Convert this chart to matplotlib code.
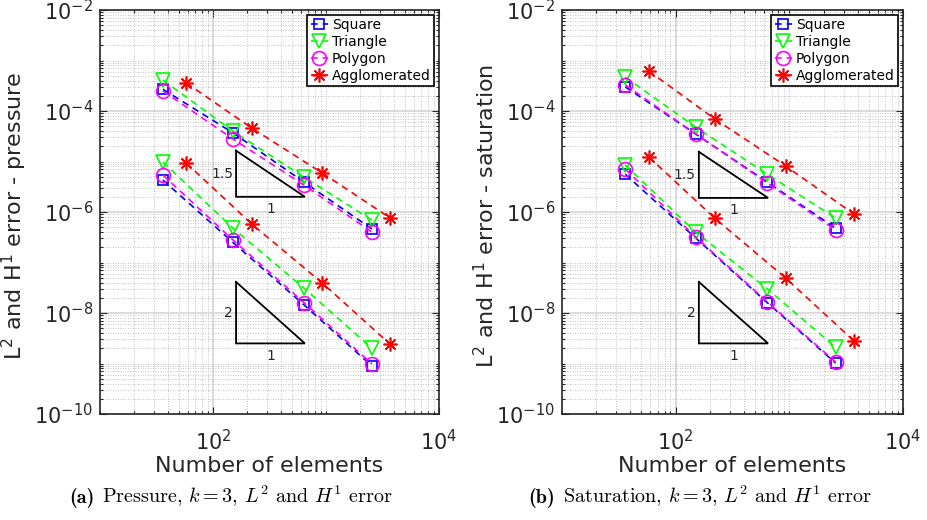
import matplotlib
matplotlib.use("Agg")
import matplotlib.pyplot as plt
import numpy as np
from matplotlib.ticker import LogLocator, FuncFormatter, NullFormatter

# number of elements for the structured meshes and for the agglomerated ones
n_elems = [36, 150, 640, 2550]
n_elems_agglo = [58, 220, 930, 3700]

# pressure, H1 error (upper group)
p_h1_square = [2.7e-4, 3.7e-5, 3.9e-6, 4.6e-7]
p_h1_triangle = [4.1e-4, 4.0e-5, 4.9e-6, 6.9e-7]
p_h1_polygon = [2.5e-4, 2.8e-5, 3.4e-6, 4.0e-7]
p_h1_agglo = [3.6e-4, 4.6e-5, 5.9e-6, 7.6e-7]

# pressure, L2 error (lower group)
p_l2_square = [4.3e-6, 2.5e-7, 1.44e-8, 8.9e-10]
p_l2_triangle = [9.8e-6, 4.8e-7, 3.1e-8, 2.0e-9]
p_l2_polygon = [5.4e-6, 2.8e-7, 1.6e-8, 9.8e-10]
p_l2_agglo = [9.3e-6, 5.8e-7, 3.9e-8, 2.4e-9]

# saturation, H1 error
s_h1_square = [3.0e-4, 3.5e-5, 3.9e-6, 4.8e-7]
s_h1_triangle = [4.7e-4, 4.8e-5, 5.6e-6, 7.6e-7]
s_h1_polygon = [3.3e-4, 3.5e-5, 3.75e-6, 4.4e-7]
s_h1_agglo = [6.2e-4, 7.0e-5, 8.1e-6, 9.1e-7]

# saturation, L2 error
s_l2_square = [5.6e-6, 3.05e-7, 1.6e-8, 1.02e-9]
s_l2_triangle = [8.5e-6, 4.0e-7, 3.0e-8, 2.1e-9]
s_l2_polygon = [7.1e-6, 3.2e-7, 1.66e-8, 1.07e-9]
s_l2_agglo = [1.23e-5, 7.6e-7, 4.9e-8, 2.8e-9]

mesh_names = ["Square", "Triangle", "Polygon", "Agglomerated"]

TXT = "#262626"
BLUE, GREEN, MAGENTA, RED = "#0000ff", "#00ff00", "#ff00ff", "#ff0000"

styles = [
    dict(color=BLUE, marker="s", ms=7.5),
    dict(color=GREEN, marker="v", ms=10),
    dict(color=MAGENTA, marker="o", ms=10),
    dict(color=RED, marker=(8, 2, 0), ms=10),
]


def draw_series(ax, h1, l2, with_label):
    xs = [n_elems, n_elems, n_elems, n_elems_agglo]
    for i, (st, x) in enumerate(zip(styles, xs)):
        for k, ys in enumerate((h1[i], l2[i])):
            ax.plot(x, ys, linestyle=(0, (4, 3)), linewidth=1.2,
                    color=st["color"], marker=st["marker"], markersize=st["ms"],
                    markerfacecolor="none", markeredgecolor=st["color"],
                    markeredgewidth=1.2,
                    label=mesh_names[i] if (k == 0 and with_label) else None)


def slope_triangle(ax, x0, x1, y_base, order, label):
    y_top = y_base * (x1 / x0) ** order
    ax.plot([x0, x0, x1, x0], [y_top, y_base, y_base, y_top],
            color="black", linewidth=1.3, solid_joinstyle="miter")
    ax.text(x0 * 0.94, np.sqrt(y_top * y_base), label, ha="right",
            va="center", fontsize=10, color=TXT)
    ax.text(np.sqrt(x0 * x1), y_base * 0.78, "1", ha="center",
            va="top", fontsize=10, color=TXT)


def style_axes(ax):
    ax.set_xscale("log")
    ax.set_yscale("log")
    ax.set_xlim(10, 1e4)
    ax.set_ylim(1e-10, 1e-2)
    ax.xaxis.set_major_locator(LogLocator(base=100, numticks=20))
    ax.yaxis.set_major_locator(LogLocator(base=100, numticks=20))
    ax.xaxis.set_minor_locator(LogLocator(base=10, subs=np.arange(1, 10), numticks=100))
    ax.yaxis.set_minor_locator(LogLocator(base=10, subs=np.arange(1, 10), numticks=100))
    fmt = FuncFormatter(lambda v, p: r"10$^{%d}$" % int(round(np.log10(v))))
    ax.xaxis.set_major_formatter(fmt)
    ax.yaxis.set_major_formatter(fmt)
    ax.xaxis.set_minor_formatter(NullFormatter())
    ax.yaxis.set_minor_formatter(NullFormatter())
    ax.tick_params(which="both", direction="in", top=True, right=True,
                   colors=TXT, labelsize=15, width=0.8)
    ax.tick_params(which="major", length=5)
    ax.tick_params(axis="y", which="major", pad=5)
    ax.tick_params(axis="x", which="major", pad=11)
    ax.tick_params(which="minor", length=2.5)
    ax.grid(True, which="major", color="#d6d6d6", linewidth=1.2, linestyle="-")
    ax.grid(True, which="minor", color="#b0b0b0", linewidth=0.6, linestyle=(0, (1, 2)))
    ax.set_axisbelow(True)
    for sp in ax.spines.values():
        sp.set_color(TXT)
        sp.set_linewidth(1.2)
    ax.set_xlabel("Number of elements", fontsize=16, color=TXT)
    ax.xaxis.set_label_coords(0.5, -0.105)


fig = plt.figure(figsize=(9.27, 5.2), dpi=100)
ax_p = fig.add_axes([100 / 927, 1 - 414 / 520, 339 / 927, 404 / 520])
ax_s = fig.add_axes([562 / 927, 1 - 414 / 520, 341 / 927, 404 / 520])

panels = [
    (ax_p, [p_h1_square, p_h1_triangle, p_h1_polygon, p_h1_agglo],
     [p_l2_square, p_l2_triangle, p_l2_polygon, p_l2_agglo],
     "pressure", -0.209, 2.0e-6, 2.5e-9),
    (ax_s, [s_h1_square, s_h1_triangle, s_h1_polygon, s_h1_agglo],
     [s_l2_square, s_l2_triangle, s_l2_polygon, s_l2_agglo],
     "saturation", -0.187, 1.9e-6, 2.5e-9),
]

for ax, h1, l2, name, ylab_x, base_h1, base_l2 in panels:
    style_axes(ax)
    draw_series(ax, h1, l2, True)
    slope_triangle(ax, 160, 650, base_h1, 1.5, "1.5")
    slope_triangle(ax, 160, 650, base_l2, 2, "2")
    ax.set_ylabel("L$^2$ and H$^1$ error - " + name, fontsize=16, color=TXT)
    ax.yaxis.set_label_coords(ylab_x, 0.49)
    leg = ax.legend(loc="upper right", fontsize=10, handlelength=1.2,
                    handletextpad=0.3, borderpad=0.25, labelspacing=0.2,
                    borderaxespad=0.35, fancybox=False, framealpha=1)
    leg.get_frame().set_edgecolor("black")
    leg.get_frame().set_linewidth(1.2)

# sub-figure captions: bold tag in cmb10, body in cmr10, centred together
captions = [
    (231, "(a)", "Pressure"),
    (700, "(b)", "Saturation"),
]
renderer = fig.canvas.get_renderer()
W = fig.bbox.width
base_y = 1 - 503 / 520
for cx, tag, what in captions:
    t_tag = fig.text(0, base_y, tag, ha="left", va="baseline",
                     fontsize=14.5, family="cmb10")
    t_body = fig.text(0, base_y,
                      r"%s, $k=3$, $L^2$ and $H^1$ error" % what,
                      ha="left", va="baseline", fontsize=14.5, family="cmr10",
                      math_fontfamily="cm")
    w_tag = t_tag.get_window_extent(renderer).width
    w_body = t_body.get_window_extent(renderer).width
    gap = 8
    x_start = cx - (w_tag + gap + w_body) / 2
    t_tag.set_x(x_start / W)
    t_body.set_x((x_start + w_tag + gap) / W)

fig.savefig("out.png", dpi=100)
